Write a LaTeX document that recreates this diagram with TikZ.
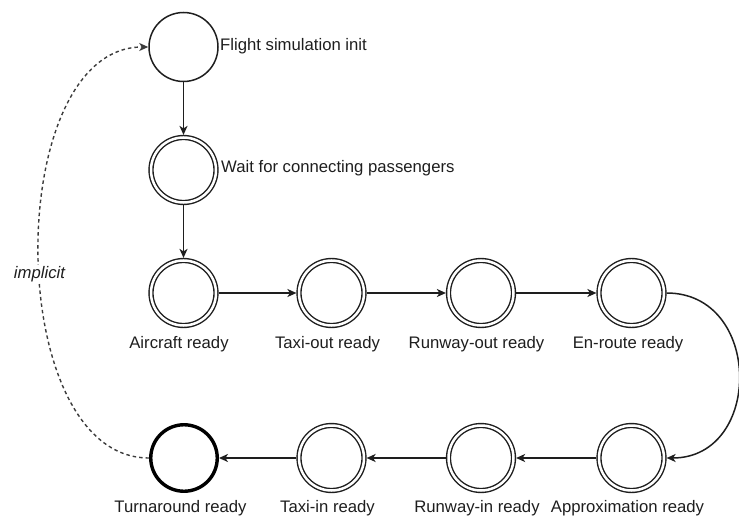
\documentclass[tikz,border=0pt]{standalone}
\usepackage{fontspec}
\setmainfont{Liberation Sans}
\usetikzlibrary{arrows.meta}

\definecolor{ink}{HTML}{1E1E1E}
\definecolor{dashink}{HTML}{3C3C3C}

\tikzset{
  every node/.style={font=\fontsize{16.7}{20}\selectfont, text=ink},
  initstate/.style={circle, draw=ink, line width=1.5pt, minimum size=69pt, inner sep=0pt},
  dblstate/.style={circle, draw=ink, line width=1.4pt, double, double distance=2.5pt,
                   minimum size=65pt, inner sep=0pt, outer sep=2.6pt},
  finalstate/.style={circle, draw=black, line width=3.4pt, minimum size=66.5pt, inner sep=0pt},
  caption/.style={inner sep=1pt},
  sidecap/.style={anchor=west, inner sep=1pt},
  flow/.style={draw=ink, line width=1.5pt, -{Stealth[length=9pt, width=8pt, inset=2.5pt]}},
  backflow/.style={draw=dashink, line width=1.4pt, dash pattern=on 3.5pt off 3pt,
                   -{Stealth[length=9pt, width=8pt, inset=2.5pt]}}
}

\begin{document}
\begin{tikzpicture}[x=1pt, y=-1pt]
  \useasboundingbox (0,0) rectangle (739,516);

  % states of the flight cycle
  \node[initstate] (init) at (183.5,47) {};
  \node[dblstate]  (wait) at (183.5,170) {};

  \node[dblstate]  (acr) at (183.5,293) {};
  \node[dblstate]  (txo) at (331.5,293) {};
  \node[dblstate]  (rwo) at (481,293) {};
  \node[dblstate]  (enr) at (631.5,293) {};

  \node[dblstate]  (apr) at (631.5,458) {};
  \node[dblstate]  (rwi) at (481,458) {};
  \node[dblstate]  (txi) at (331.5,458) {};
  \node[finalstate] (trn) at (184,458) {};

  % state names
  \node[sidecap] (initlbl) at (219,46) {Flight simulation init};
  \node[sidecap] (waitlbl) at (220,168) {Wait for connecting passengers};

  \node[caption] (acrlbl) at (179,344.5) {Aircraft ready};
  \node[caption] (txolbl) at (327.5,344.5) {Taxi-out ready};
  \node[caption] (rwolbl) at (476.5,344.5) {Runway-out ready};
  \node[caption] (enrlbl) at (628,344.5) {En-route ready};

  \node[caption] (aprlbl) at (627.5,508.5) {Approximation ready};
  \node[caption] (rwilbl) at (477,508.5) {Runway-in ready};
  \node[caption] (txilbl) at (327.5,508.5) {Taxi-in ready};
  \node[caption] (trnlbl) at (180.5,508.5) {Turnaround ready};

  % transitions
  \draw[flow] (init) -- (wait);
  \draw[flow] (wait) -- (acr);
  \draw[flow] (acr) -- (txo);
  \draw[flow] (txo) -- (rwo);
  \draw[flow] (rwo) -- (enr);
  \draw[flow] (enr.east) .. controls (763,293) and (763,458) .. (apr.east);
  \draw[flow] (apr) -- (rwi);
  \draw[flow] (rwi) -- (txi);
  \draw[flow] (txi) -- (trn);

  % implicit return to the start of the cycle
  \draw[backflow] (trn.west) .. controls (2,458) and (2,47) .. (init.west);
  \node[fill=white, inner sep=1pt, font=\fontsize{16.7}{20}\selectfont\itshape] (impl) at (39.5,274) {implicit};
\end{tikzpicture}
\end{document}
